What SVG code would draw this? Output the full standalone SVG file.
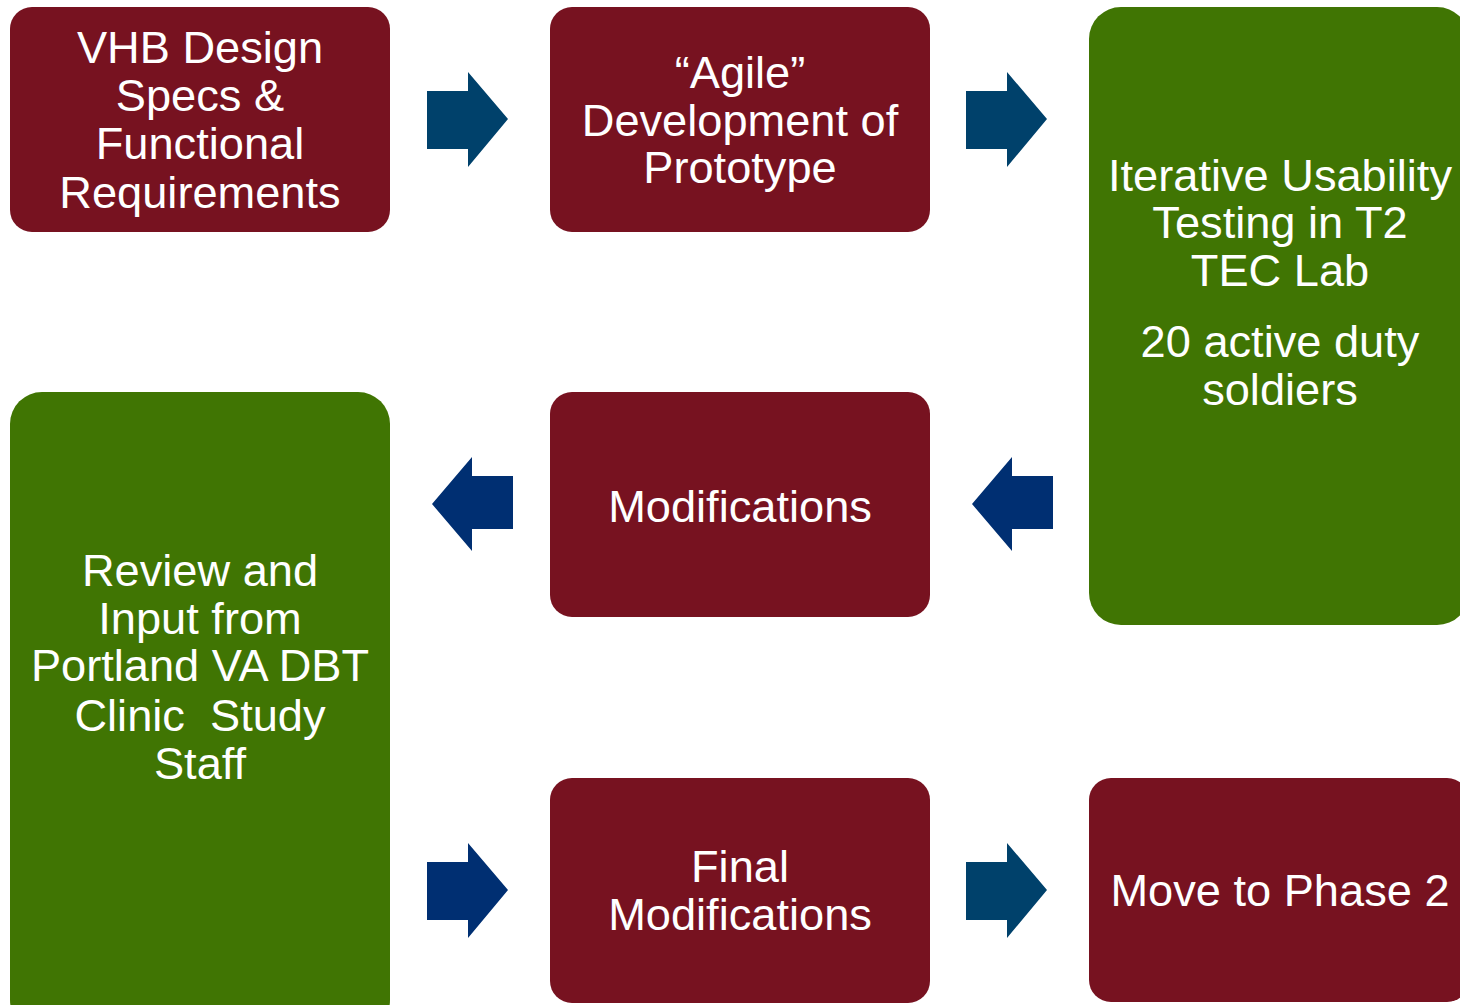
<svg xmlns="http://www.w3.org/2000/svg" width="1460" height="1005" viewBox="0 0 1460 1005">
<defs>
<style>
.red{fill:#771220}
.grn{fill:#407503}
.t{font-family:"Liberation Sans",Arial,sans-serif;font-size:45.2px;fill:#ffffff;text-anchor:middle}
.a1{fill:#00416B}
.a2{fill:#002F72}
</style>
</defs>
<rect width="1460" height="1005" fill="#ffffff"/>
<g id="connectors">
<polygon class="a1" points="427,91 468,91 468,72 508,119 468,167 468,149 427,149"/>
<polygon class="a1" points="966,91 1007,91 1007,72 1047,119 1007,167 1007,149 966,149"/>
<polygon class="a2" points="513,476 472,476 472,457 432,504 472,551 472,529 513,529"/>
<polygon class="a2" points="1053,476 1012,476 1012,457 972,504 1012,551 1012,529 1053,529"/>
<polygon class="a2" points="427,862 468,862 468,843 508,890 468,938 468,920 427,920"/>
<polygon class="a1" points="966,862 1007,862 1007,843 1047,890 1007,938 1007,920 966,920"/>
</g>
<g id="n1"><rect class="red" x="10" y="7" width="380" height="225" rx="22"/>
<text class="t"><tspan x="200" y="63">VHB Design</tspan><tspan x="200" y="111">Specs &amp;</tspan><tspan x="200" y="159">Functional</tspan><tspan x="200" y="208">Requirements</tspan></text></g>
<g id="n2"><rect class="red" x="550" y="7" width="380" height="225" rx="22"/>
<text class="t"><tspan x="740" y="88">“Agile”</tspan><tspan x="740" y="136">Development of</tspan><tspan x="740" y="183">Prototype</tspan></text></g>
<g id="n3"><rect class="grn" x="1089" y="7" width="380" height="618" rx="32"/>
<text class="t"><tspan x="1280" y="191">Iterative Usability</tspan><tspan x="1280" y="238">Testing in T2</tspan><tspan x="1280" y="286">TEC Lab</tspan><tspan x="1280" y="357">20 active duty</tspan><tspan x="1280" y="405">soldiers</tspan></text></g>
<g id="n4"><rect class="red" x="550" y="392" width="380" height="225" rx="22"/>
<text class="t" x="740" y="522">Modifications</text></g>
<g id="n5"><rect class="grn" x="10" y="392" width="380" height="640" rx="32"/>
<text class="t"><tspan x="200" y="586">Review and</tspan><tspan x="200" y="634">Input from</tspan><tspan x="200" y="681">Portland VA DBT</tspan><tspan x="200" y="731" xml:space="preserve">Clinic  Study</tspan><tspan x="200" y="779">Staff</tspan></text></g>
<g id="n6"><rect class="red" x="550" y="778" width="380" height="225" rx="22"/>
<text class="t"><tspan x="740" y="882">Final</tspan><tspan x="740" y="930">Modifications</tspan></text></g>
<g id="n7"><rect class="red" x="1089" y="778" width="380" height="224" rx="22"/>
<text class="t" x="1280" y="906">Move to Phase 2</text></g>
</svg>
